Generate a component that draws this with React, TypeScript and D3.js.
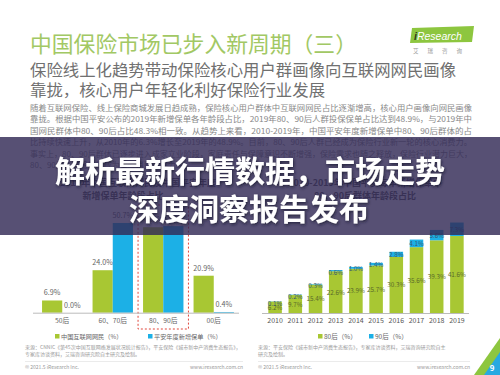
import * as d3 from "d3";

// ── Data ──────────────────────────────────────────────────────────────────────

const ageCats = ["50后", "60、70后", "80、90后", "00后"];
const netUsers = [6.9, 24.0, 48.3, 20.9];
const pinganNew = [0.0, 50.7, 48.9, 0.4];

const years = ["2010", "2011", "2012", "2013", "2014", "2015", "2016", "2017", "2018", "2019"];
const post80 = [6.2, 9.7, 15.4, 22.6, 23.9, 25.7, 30.3, 35.6, 39.3, 41.6];
const post90 = [0.1, 0.2, 0.3, 0.6, 1.0, 1.4, 2.8, 4.1, 5.6, 7.3];

const bodyLines = [
  "随着互联网保险、线上保险商城发展日趋成熟，保险核心用户群体中互联网网民占比逐渐增高，核心用户画像向网民画像",
  "靠拢。根据中国平安公布的2019年新增保单各年龄段占比，2019年80、90后人群投保保单占比达到48.9%，与2019年中",
  "国网民群体中80、90后占比48.3%相一致。从趋势上来看，2010-2019年，中国平安年度新增保单中80、90后群体的占",
  "比持续快速上升，从2010年的6.3%增长至2019年的48.9%。目前，80、90后人群已经成为保险行业新一轮的核心消费力。",
  "事实上，80、90后群体已逐步进入成家立业阶段，家庭责任与保障意识不断增强，保险需求也随之释放，保险行业潜力巨大，",
  "80、90后人群将持续成为保险消费的主力军。",
];

const GREEN = "#a8c733";
const BLUE = "#1cb0e6";
const FONT = "'Noto Sans CJK SC', 'Noto Sans', sans-serif";

const pct = (v: number) => `${v.toFixed(1)}%`;

export default function App() {
  // ── Left chart scales ─────────────────────────────────────────────────────
  const BASE_L = 312.7;
  const xL = d3.scaleBand<string>().domain(ageCats).range([37, 239]).paddingInner(0.2).paddingOuter(0.1);
  const subL = d3.scaleBand<string>().domain(["net", "pa"]).range([0, xL.bandwidth()]);
  const yL = d3.scaleLinear().domain([0, 100]).range([BASE_L, BASE_L - 177]);

  // ── Right chart scales ────────────────────────────────────────────────────
  const BASE_R = 313;
  const xR = d3.scaleBand<string>().domain(years).range([265, 467]).paddingInner(0.33).paddingOuter(0.165);
  const yR = d3.scaleLinear().domain([0, 50]).range([BASE_R, BASE_R - 92.5]);

  const stacked = d3.stack<number>().keys(["p80", "p90"]).value((i, k) => (k === "p80" ? post80[i] : post90[i]))(
    years.map((_, i) => i)
  );

  const hl = xL("80、90后")!;

  return (
    <svg
      width={500}
      height={375}
      style={{ position: "absolute", left: 0, top: 0, background: "#fff" }}
      fontFamily={FONT}
    >
      <defs>
        <filter id="shadow" x="-10%" y="-30%" width="120%" height="160%">
          <feDropShadow dx="1" dy="1.5" stdDeviation="1.5" floodColor="#1a1530" floodOpacity="0.8" />
        </filter>
      </defs>

      {/* ── Header ── */}
      <text x={30} y={52} fontSize={21.8} fill="#a2c864">
        中国保险市场已步入新周期（三）
      </text>
      <polygon points="412,28 474,26 472,42 410,43" fill="#8dc63f" />
      <text x={414} y={39.5} fontSize={10.5} fill="#fff" fontFamily="'Liberation Sans', sans-serif" fontStyle="italic">
        <tspan fill="#2f3b1a" fontWeight="bold">i</tspan>Research
      </text>
      <text x={413} y={53} fontSize={5.5} fill="#999" letterSpacing={9}>
        艾瑞咨询
      </text>

      <text x={30} y={76} fontSize={16.4} fill="#707070">
        保险线上化趋势带动保险核心用户群画像向互联网网民画像
      </text>
      <text x={30} y={96} fontSize={16.4} fill="#707070">
        靠拢，核心用户年轻化利好保险行业发展
      </text>

      {bodyLines.map((line, i) => (
        <text
          key={i}
          x={30}
          y={110.5 + i * 11.5}
          fontSize={8}
          fill="#888"
          textLength={i < bodyLines.length - 1 ? 442 : undefined}
          lengthAdjust="spacingAndGlyphs"
        >
          {line}
        </text>
      ))}

      {/* ── Chart titles ── */}
      <g fontSize={9} fill="#555" fontWeight="bold" textAnchor="middle">
        <text x={138} y={186}>2019年中国互联网网民及中国平安年度</text>
        <text x={123} y={199}>新增保单年龄段占比</text>
        <text x={365} y={186}>2010-2019年中国平安每年新增保单中</text>
        <text x={365} y={199}>80、90后群体年龄段占比</text>
      </g>

      {/* ── Left chart ── */}
      <rect
        x={hl - 5}
        y={205}
        width={xL.bandwidth() + 10}
        height={329 - 205}
        fill="none"
        stroke="#e0473c"
        strokeWidth={1}
        strokeDasharray="2,2"
      />
      {ageCats.map((c, i) => {
        const x0 = xL(c)!;
        return (
          <g key={c}>
            <rect x={x0 + subL("net")!} y={yL(netUsers[i])} width={subL.bandwidth()} height={BASE_L - yL(netUsers[i])} fill={GREEN} />
            <rect x={x0 + subL("pa")!} y={yL(pinganNew[i])} width={subL.bandwidth()} height={BASE_L - yL(pinganNew[i])} fill={BLUE} />
            <text x={x0 + subL("net")! + subL.bandwidth() / 2} y={yL(netUsers[i]) - 5} fontSize={7.2} fill="#666" textAnchor="middle">
              {pct(netUsers[i])}
            </text>
            <text x={x0 + subL("pa")! + subL.bandwidth() / 2} y={yL(pinganNew[i]) - 5} fontSize={7.2} fill="#666" textAnchor="middle">
              {pct(pinganNew[i])}
            </text>
            <text x={x0 + xL.bandwidth() / 2} y={322.5} fontSize={6.8} fill="#666" textAnchor="middle">
              {c}
            </text>
          </g>
        );
      })}
      <line x1={33} x2={239} y1={BASE_L + 0.5} y2={BASE_L + 0.5} stroke="#bbb" />

      {/* left legend */}
      <rect x={55} y={334} width={4.5} height={4.5} fill={GREEN} />
      <text x={61} y={339} fontSize={6.2} fill="#666">中国互联网网民（%）</text>
      <rect x={148} y={334} width={4.5} height={4.5} fill={BLUE} />
      <text x={154} y={339} fontSize={6.2} fill="#666">平安年度新增保单（%）</text>

      {/* ── Right chart ── */}
      {years.map((yr, i) => {
        const x0 = xR(yr)!;
        const g = stacked[0][i];
        const b = stacked[1][i];
        const cx = x0 + xR.bandwidth() / 2;
        const bTop = yR(b[1]);
        const bMid = (yR(b[0]) + bTop) / 2;
        return (
          <g key={yr}>
            <rect x={x0} y={yR(g[1])} width={xR.bandwidth()} height={yR(g[0]) - yR(g[1])} fill={GREEN} />
            <rect x={x0} y={bTop} width={xR.bandwidth()} height={yR(b[0]) - bTop} fill={BLUE} />
            <text x={cx} y={(yR(g[0]) + yR(g[1])) / 2} fontSize={6.3} fill="#5a6a2a" textAnchor="middle" dominantBaseline="central">
              {pct(post80[i])}
            </text>
            <text x={cx} y={Math.max(bMid, bTop + 2)} fontSize={6.3} fill="#355a70" textAnchor="middle" dominantBaseline="central">
              {pct(post90[i])}
            </text>
            <text x={cx} y={323} fontSize={7} fill="#555" textAnchor="middle">
              {yr}
            </text>
          </g>
        );
      })}
      <line x1={262} x2={469} y1={BASE_R + 0.5} y2={BASE_R + 0.5} stroke="#bbb" />

      {/* right legend */}
      <rect x={318} y={334} width={4.5} height={4.5} fill={GREEN} />
      <text x={324} y={339} fontSize={6.5} fill="#666">80后（%）</text>
      <rect x={369} y={334} width={4.5} height={4.5} fill={BLUE} />
      <text x={375} y={339} fontSize={6.5} fill="#666">90后（%）</text>

      {/* ── Sources & footer ── */}
      <g fontSize={5} fill="#999">
        <text x={25} y={349}>来源：CNNIC《第45次中国互联网络发展状况统计报告》，平安保险《城市新中产消费生态报告》，</text>
        <text x={25} y={356}>专家库访谈资料，艾瑞咨询研究院自主研究及绘制。</text>
        <text x={258} y={349}>来源：平安保险《城市新中产消费生态报告》，专家库访谈资料，艾瑞咨询研究院自主</text>
        <text x={258} y={356}>研究及绘制。</text>
        <text x={25} y={369}>© 2021.5 iResearch Inc.</text>
        <text x={243} y={369} textAnchor="end">www.iresearch.com.cn</text>
        <text x={258} y={369}>© 2021.5 iResearch Inc.</text>
        <text x={470} y={369} textAnchor="end">www.iresearch.com.cn</text>
      </g>
      <line x1={25} x2={243} y1={361.5} y2={361.5} stroke="#ddd" strokeWidth={0.6} />
      <line x1={258} x2={470} y1={361.5} y2={361.5} stroke="#ddd" strokeWidth={0.6} />

      {/* page corner */}
      <polygon points="500,338 500,375 474,375" fill="#8dc63f" />
      <polygon points="500,352 500,375 484,375" fill="#27a9e1" />
      <text x={492} y={371} fontSize={8} fill="#fff" textAnchor="middle" fontWeight="bold">9</text>

      {/* ── Overlay band ── */}
      <rect x={0} y={137} width={500} height={98} fill="rgb(50,42,85)" fillOpacity={0.82} />
      <g fill="#fff" fontSize={30} fontWeight="bold" textAnchor="middle" filter="url(#shadow)">
        <text x={250} y={168.5} dominantBaseline="central">解析最新行情数据，市场走势</text>
        <text x={249} y={207} dominantBaseline="central">深度洞察报告发布</text>
      </g>
    </svg>
  );
}
